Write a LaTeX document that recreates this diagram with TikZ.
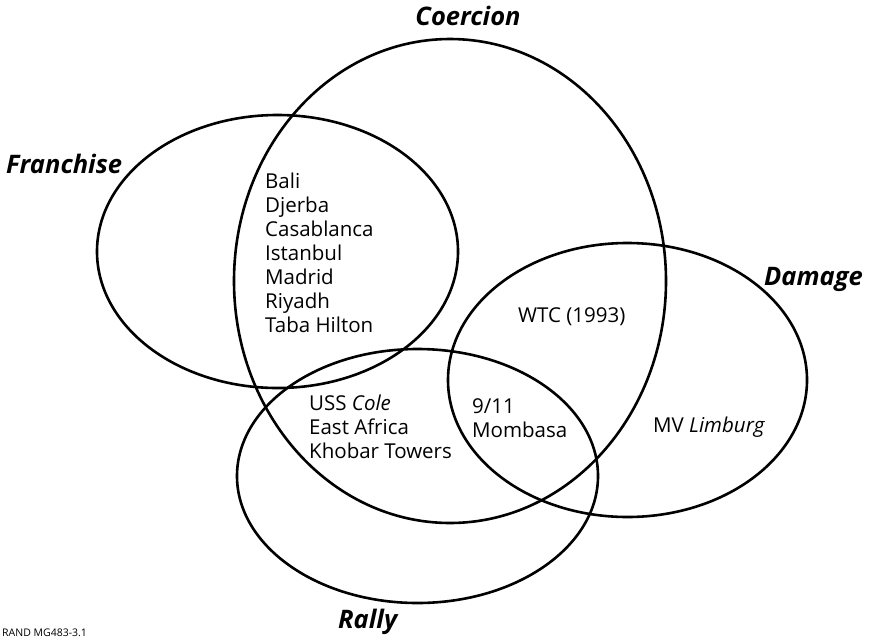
\documentclass[tikz,border=0pt]{standalone}
\usepackage{fontspec}
\setmainfont{Open Sans}
\begin{document}
\begin{tikzpicture}[x=1pt,y=-1pt,
  ring/.style={draw=black,line width=2.6pt},
  setlabel/.style={font=\fontsize{25.5}{30}\selectfont\bfseries\itshape,inner sep=0pt},
  members/.style={font=\fontsize{20.5}{24}\selectfont,inner sep=0pt,anchor=base west}]
\useasboundingbox (0,0) rectangle (873,638);
% sets
\draw[ring] (277.5,251.5) ellipse [x radius=180.5, y radius=136.5];
\draw[ring] (450,281) ellipse [x radius=216, y radius=242];
\draw[ring] (627.5,380) ellipse [x radius=179.5, y radius=137];
\draw[ring] (417.5,476) ellipse [x radius=180.5, y radius=127];
% set labels
\node[setlabel,anchor=base] (coercion) at (468,25) {Coercion};
\node[setlabel,anchor=base west] (franchise) at (6,173) {Franchise};
\node[setlabel,anchor=base west] (damage) at (764,285) {Damage};
\node[setlabel,anchor=base west] (rally) at (338,628) {Rally};
% members
\node[members] (fc) at (265,188) {\begin{tabular}[t]{@{}l@{}}Bali\\Djerba\\Casablanca\\Istanbul\\Madrid\\Riyadh\\Taba Hilton\end{tabular}};
\node[members] (cr) at (309,410) {\begin{tabular}[t]{@{}l@{}}USS \textit{Cole}\\East Africa\\Khobar Towers\end{tabular}};
\node[members] (cdr) at (472,413) {\begin{tabular}[t]{@{}l@{}}9/11\\Mombasa\end{tabular}};
\node[members] (cd) at (518,322) {WTC (1993)};
\node[members] (d) at (653,432) {MV \textit{Limburg}};
% source line at the lower edge
\node[font=\fontsize{10.5}{12}\selectfont,inner sep=0pt,anchor=base west] (src) at (2,636.5) {RAND MG483-3.1};
\end{tikzpicture}
\end{document}
